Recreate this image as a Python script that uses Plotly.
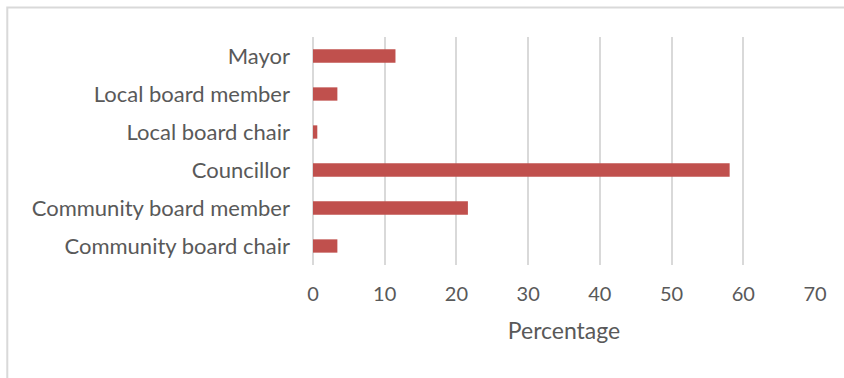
import plotly.graph_objects as go

# Elected role categories, listed top to bottom
roles = [
    "Mayor",
    "Local board member",
    "Local board chair",
    "Councillor",
    "Community board member",
    "Community board chair",
]
percentages = [11.5, 3.4, 0.6, 58.1, 21.6, 3.4]

x_ticks = [0, 10, 20, 30, 40, 50, 60, 70]

FONT = "Lato, 'Open Sans', sans-serif"
TEXT_COLOR = "#595959"
GRID_COLOR = "#d9d9d9"

fig = go.Figure(
    go.Bar(
        x=percentages,
        y=roles,
        orientation="h",
        marker=dict(color="#C0504D", line=dict(width=0)),
        width=0.35,
    )
)

fig.update_layout(
    width=844,
    height=378,
    margin=dict(l=313, r=29, t=37, b=113),
    paper_bgcolor="white",
    plot_bgcolor="white",
    showlegend=False,
    font=dict(family=FONT, color=TEXT_COLOR, size=20),
    xaxis=dict(
        range=[0, 70],
        tickvals=x_ticks,
        ticktext=[str(v) for v in x_ticks],
        showgrid=True,
        gridcolor=GRID_COLOR,
        gridwidth=2,
        zeroline=True,
        zerolinecolor=GRID_COLOR,
        zerolinewidth=2,
        showline=False,
        ticks="",
        ticklabelstandoff=15,
        tickfont=dict(size=20, color=TEXT_COLOR),
        title=dict(text="Percentage", font=dict(size=23, color=TEXT_COLOR), standoff=18),
        fixedrange=True,
    ),
    yaxis=dict(
        autorange="reversed",
        showgrid=False,
        showline=False,
        ticks="",
        ticklabelstandoff=22,
        tickfont=dict(size=22, color=TEXT_COLOR),
        fixedrange=True,
    ),
    shapes=[
        # light frame around the chart area
        dict(
            type="rect",
            xref="paper",
            yref="paper",
            x0=-0.609,
            x1=1.5,
            y0=-1.0,
            y1=1.129,
            line=dict(color=GRID_COLOR, width=2),
            fillcolor="rgba(0,0,0,0)",
            layer="below",
        )
    ],
)

fig.write_html("out.html")
